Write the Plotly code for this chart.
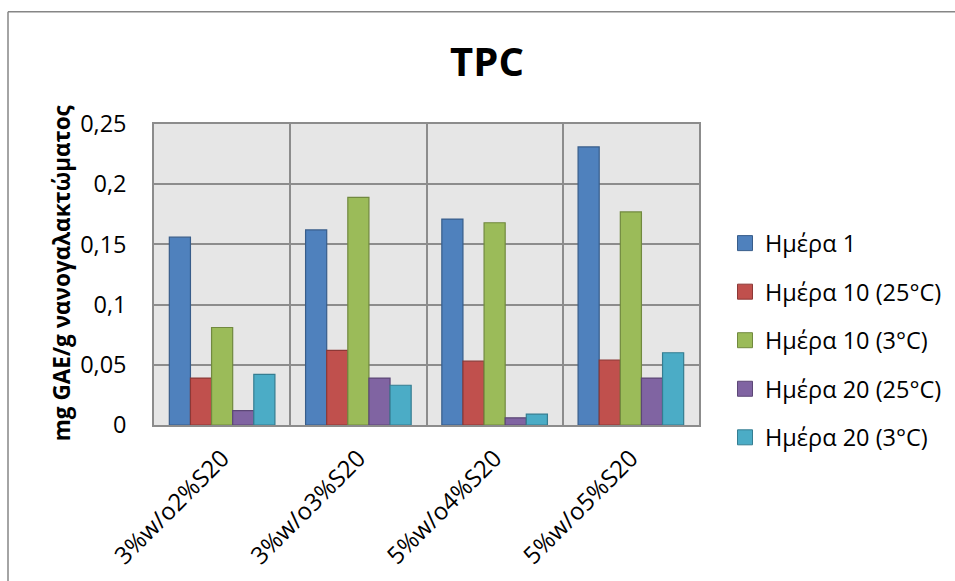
import plotly.graph_objects as go

categories = ["3%w/o2%S20", "3%w/o3%S20", "5%w/o4%S20", "5%w/o5%S20"]
series_names = ["Ημέρα 1", "Ημέρα 10 (25°C)", "Ημέρα 10 (3°C)", "Ημέρα 20 (25°C)", "Ημέρα 20 (3°C)"]
day1 = [0.156, 0.162, 0.171, 0.231]
day10_25 = [0.039, 0.062, 0.053, 0.054]
day10_3 = [0.081, 0.189, 0.168, 0.177]
day20_25 = [0.012, 0.039, 0.006, 0.039]
day20_3 = [0.042, 0.033, 0.009, 0.060]
y_tickvals = [0, 0.05, 0.1, 0.15, 0.2, 0.25]
y_ticktext = ["0", "0,05", "0,1", "0,15", "0,2", "0,25"]

fills = ["#4F81BD", "#C0504D", "#9BBB59", "#8064A2", "#4BACC6"]
edges = ["#385D8A", "#8C3836", "#71893F", "#5C4776", "#357D91"]
FONT = "Open Sans"
FS = 23.5

W, H = 955, 581
L, R, T, B = 154, 699, 123.5, 425
pw, ph = R - L, B - T

fig = go.Figure()
for i, (name, vals) in enumerate(zip(series_names, [day1, day10_25, day10_3, day20_25, day20_3])):
    fig.add_trace(go.Bar(
        x=categories, y=vals, name=name, legendgroup=f"g{i}", showlegend=False,
        marker=dict(color=fills[i], line=dict(color=edges[i], width=1.2)),
    ))
    # legend entry with a larger square swatch
    fig.add_trace(go.Scatter(
        x=[None], y=[None], mode="markers", name=name, legendgroup=f"g{i}",
        marker=dict(symbol="square", size=15, color=fills[i], line=dict(color=edges[i], width=1)),
    ))

def px_x(p):
    return (p - L) / pw

def px_y(p):
    return (B - p) / ph

fig.update_layout(
    width=W, height=H,
    margin=dict(l=L, r=W - R, t=T, b=H - B, autoexpand=False),
    paper_bgcolor="white", plot_bgcolor="#E6E6E6",
    separators=",.",
    barmode="group", bargap=0.225, bargroupgap=0,
    font=dict(family=FONT, size=FS, color="black"),
    title=dict(text="<b>TPC</b>", x=487 / W, xanchor="center", xref="container",
               y=1 - 62 / H, yanchor="middle", yref="container",
               font=dict(family=FONT, size=40, color="black")),
    showlegend=True,
    legend=dict(x=px_x(725), xanchor="left", y=px_y(221), yanchor="top",
                font=dict(family=FONT, size=FS, color="black"),
                tracegroupgap=15, itemwidth=30, itemsizing="trace", bgcolor="rgba(0,0,0,0)"),
    xaxis=dict(type="category", tickson="boundaries", showgrid=True, gridcolor="#8C8C8C",
               gridwidth=1.5, showline=True, linecolor="#8C8C8C", linewidth=1.5, mirror=True,
               ticks="", tickangle=-45, ticklabelstandoff=8,
               tickfont=dict(family=FONT, size=24, color="black")),
    yaxis=dict(range=[0, 0.25], tickvals=y_tickvals, ticktext=y_ticktext, showgrid=True,
               gridcolor="#8C8C8C", gridwidth=1.5, showline=True, linecolor="#8C8C8C",
               linewidth=1.5, mirror=True, ticks="", ticklabelstandoff=21, zeroline=False,
               tickfont=dict(family=FONT, size=FS, color="black")),
    annotations=[dict(text="<b>mg GAE/g νανογαλακτώματος</b>", textangle=-90,
                      x=px_x(61), y=px_y(273), xref="paper", yref="paper", showarrow=False,
                      xanchor="center", yanchor="middle",
                      font=dict(family=FONT, size=22.5, color="black"))],
    shapes=[
        dict(type="line", xref="paper", yref="paper", x0=px_x(8), x1=px_x(960),
             y0=px_y(11), y1=px_y(11), line=dict(color="#868686", width=1.5)),
        dict(type="line", xref="paper", yref="paper", x0=px_x(8), x1=px_x(8),
             y0=px_y(11), y1=px_y(590), line=dict(color="#868686", width=1.5)),
    ],
)

fig.write_html("out.html", config={"displayModeBar": False},
               post_script="document.body.style.margin='0';")
